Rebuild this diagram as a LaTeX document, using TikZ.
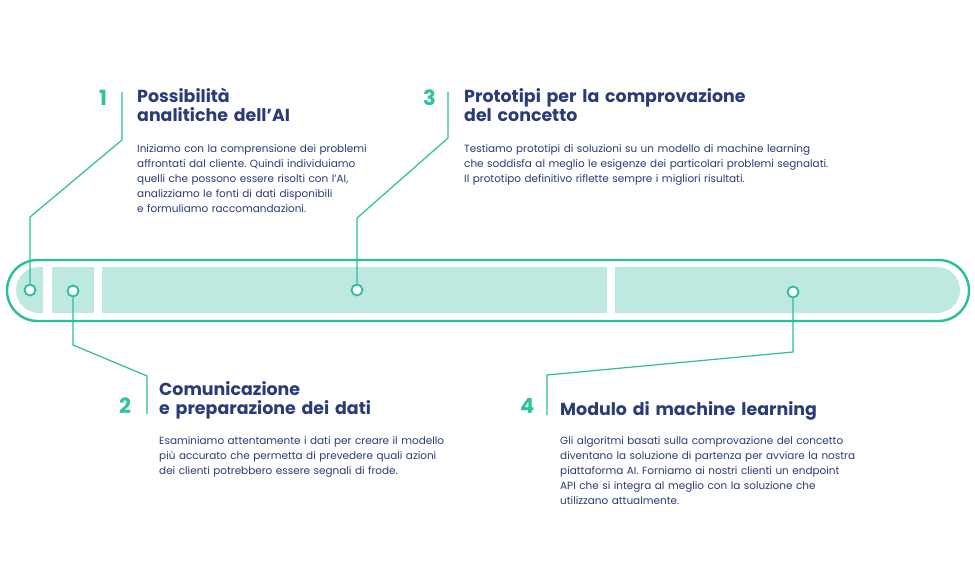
\documentclass[tikz,border=0pt]{standalone}
\usepackage{fontspec}
\setmainfont{Poppins}
\frenchspacing
\definecolor{teal1}{HTML}{2BBD9C}
\definecolor{tealfill}{HTML}{BDE9E1}
\definecolor{navy}{HTML}{2A3B78}
\definecolor{numteal}{HTML}{2DC2A0}
\begin{document}
\begin{tikzpicture}[x=1pt,y=-1pt,
  dot/.style={circle,draw=teal1,fill=white,line width=1.8pt,minimum size=11pt,inner sep=0pt},
  conn/.style={draw=teal1,line width=1.2pt},
  num/.style={anchor=base west,inner sep=0pt,text=numteal,font=\fontsize{21}{21}\selectfont\bfseries},
  title/.style={anchor=base west,inner sep=0pt,text=navy,align=left,text width=360pt,font=\fontsize{17.4}{19}\selectfont\bfseries},
  body/.style={anchor=base west,inner sep=0pt,text=navy,align=left,text width=380pt,font=\fontsize{10.45}{15}\selectfont\frenchspacing}]
\useasboundingbox (0,0) rectangle (975,588);
\fill[white] (0,0) rectangle (975,588);
% capsule
\draw[teal1,line width=2.4pt,rounded corners=30.5pt] (7,260) rectangle (969,321);
\fill[tealfill] (43,267) -- (39,267) arc[start angle=270,end angle=90,radius=23] -- (43,313) -- cycle;
\fill[tealfill] (52,267) rectangle (94,313);
\fill[tealfill] (102,267) rectangle (607,313);
\fill[tealfill] (615,267) -- (937,267) arc[start angle=270,end angle=450,radius=23] -- (615,313) -- cycle;
% connectors
\coordinate (b1) at (30,217); \coordinate (k1) at (122,140); \coordinate (e1) at (122,92);
\coordinate (b3) at (357,218); \coordinate (k3) at (448,138); \coordinate (e3) at (448,92);
\coordinate (b2) at (73,345); \coordinate (k2) at (147,376); \coordinate (e2) at (147,414);
\coordinate (b4) at (793,352); \coordinate (k4) at (547,375); \coordinate (e4) at (547,415);
\node[dot] (c1) at (30,290) {};
\node[dot] (c2) at (73,291) {};
\node[dot] (c3) at (357,290) {};
\node[dot] (c4) at (793,292) {};
\draw[conn] (c1.north) -- (b1) -- (k1) -- (e1);
\draw[conn] (c3.north) -- (b3) -- (k3) -- (e3);
\draw[conn] (c2.south) -- (b2) -- (k2) -- (e2);
\draw[conn] (c4.south) -- (b4) -- (k4) -- (e4);
% numbers
\node[num] (n1) at (99,106) {1};
\node[num] (n3) at (423,106) {3};
\node[num] (n2) at (119,413) {2};
\node[num] (n4) at (520,413) {4};
% titles
\node[title] (t1) at (137,103) {Possibilità\\analitiche dell’AI};
\node[title] (t3) at (464,103) {Prototipi per la comprovazione\\del concetto};
\node[title] (t2) at (159,395) {Comunicazione\\e preparazione dei dati};
\node[title] (t4) at (560,415) {Modulo di machine learning};
% bodies
\node[body] (d1) at (137,153) {Iniziamo con la comprensione dei problemi\\affrontati dal cliente. Quindi individuiamo\\quelli che possono essere risolti con l’AI,\\analizziamo le fonti di dati disponibili\\e formuliamo raccomandazioni.};
\node[body] (d3) at (464,153) {Testiamo prototipi di soluzioni su un modello di machine learning\\che soddisfa al meglio le esigenze dei particolari problemi segnalati.\\Il prototipo definitivo riflette sempre i migliori risultati.};
\node[body] (d2) at (159,444) {Esaminiamo attentamente i dati per creare il modello\\più accurato che permetta di prevedere quali azioni\\dei clienti potrebbero essere segnali di frode.};
\node[body] (d4) at (560,444) {Gli algoritmi basati sulla comprovazione del concetto\\diventano la soluzione di partenza per avviare la nostra\\piattaforma AI. Forniamo ai nostri clienti un endpoint\\API che si integra al meglio con la soluzione che\\utilizzano attualmente.};
\end{tikzpicture}
\end{document}
